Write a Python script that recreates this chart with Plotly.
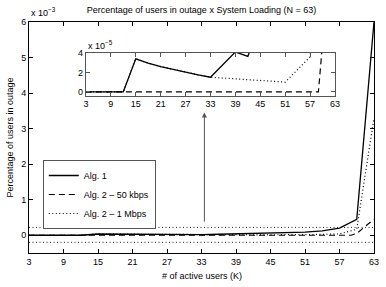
import plotly.graph_objects as go

# ---- data (fraction of users in outage) ----
K = [3, 6, 9, 12, 15, 18, 21, 24, 27, 30, 33, 36, 39, 42, 45, 48, 51, 54, 57, 60, 63]
alg1 = [0, 0, 0, 0, 3.4e-5, 2.95e-5, 2.6e-5, 2.3e-5, 2.05e-5, 1.75e-5, 1.5e-5,
        2.8e-5, 4.1e-5, 3.65e-5, 7e-5, 8e-5, 9e-5, 12e-5, 20e-5, 45e-5, 600e-5]
alg2_1m = [0, 0, 0, 0, 3.4e-5, 2.95e-5, 2.6e-5, 2.3e-5, 2.05e-5, 1.75e-5, 1.5e-5,
           1.42e-5, 1.35e-5, 1.27e-5, 1.2e-5, 1.1e-5, 1.0e-5, 2.3e-5, 3.6e-5, 17e-5, 330e-5]
K_50k = [3, 57, 59, 60, 63]
alg2_50k = [0, 0, 0, 5e-5, 45e-5]
zoom_band = [-0.2e-3, 0.22e-3]
x_ticks = [3, 9, 15, 21, 27, 33, 39, 45, 51, 57, 63]
main_y_ticks = [0, 1, 2, 3, 4, 5, 6]
inset_y_ticks = [0, 2, 4]
main_scale = 1e-3
inset_scale = 1e-5
series_names = ["Alg. 1", "Alg. 2 \u2013 50 kbps", "Alg. 2 \u2013 1 Mbps"]

FONT = "Liberation Sans, Arial, sans-serif"
DASH = "6px,4px"
DOT = "1px,2.5px"

fig = go.Figure()

styles = [
    (K, alg1, "solid", 1.3),
    (K_50k, alg2_50k, DASH, 1.2),
    (K, alg2_1m, DOT, 1.2),
]

# main traces
for (xs, ys, dash, w), name in zip(styles, series_names):
    fig.add_trace(go.Scatter(
        x=xs, y=[v / main_scale for v in ys], mode="lines", name=name,
        line=dict(color="black", width=w, dash=dash),
        xaxis="x", yaxis="y", hoverinfo="skip"))

# zoom band dotted lines
for b in zoom_band:
    fig.add_trace(go.Scatter(
        x=[K[0], K[-1]], y=[b / main_scale, b / main_scale], mode="lines",
        line=dict(color="#222", width=1, dash=DOT), showlegend=False,
        xaxis="x", yaxis="y", hoverinfo="skip"))

# inset traces
for (xs, ys, dash, w), name in zip(styles, series_names):
    fig.add_trace(go.Scatter(
        x=xs, y=[v / inset_scale for v in ys], mode="lines", name=name,
        line=dict(color="black", width=w, dash=dash), showlegend=False,
        xaxis="x2", yaxis="y2", hoverinfo="skip"))

axis_common = dict(ticks="inside", ticklen=4, tickwidth=1, tickcolor="black",
                   showline=True, linecolor="black", linewidth=1, mirror="ticks",
                   showgrid=False, zeroline=False, automargin=False,
                   tickfont=dict(family=FONT, size=9, color="black"))

inset_axis = dict(axis_common)
inset_axis.update(linecolor="#555", tickcolor="#555")

fig.update_layout(
    width=386, height=287,
    margin=dict(l=29, r=12, t=22, b=34, autoexpand=False),
    paper_bgcolor="white", plot_bgcolor="white",
    font=dict(family=FONT, size=9, color="black"),
    title=dict(text="Percentage of users in outage x System Loading (N = 63)",
               x=0.5, xref="paper", y=1 - 10 / 287, yref="container",
               xanchor="center", yanchor="middle", automargin=False,
               font=dict(family=FONT, size=9, color="black")),
    xaxis=dict(range=[3, 63], tickvals=x_ticks, domain=[0, 1], anchor="y", **axis_common),
    yaxis=dict(range=[-0.5, 6], tickvals=main_y_ticks, domain=[0, 1], anchor="x", **axis_common),
    xaxis2=dict(range=[3, 63], tickvals=x_ticks, domain=[0.165, 0.887], anchor="y2", **inset_axis),
    yaxis2=dict(range=[-0.4, 4], tickvals=inset_y_ticks, domain=[0.681, 0.866], anchor="x2", **inset_axis),
    legend=dict(x=0.04, y=(253 - 160) / 231, xanchor="left", yanchor="top",
                bgcolor="white", bordercolor="#555", borderwidth=1,
                font=dict(family=FONT, size=9, color="black"),
                itemwidth=30, tracegroupgap=0),
    showlegend=True,
    hovermode=False,
    annotations=[
        dict(text="x 10<sup>\u22123</sup>", xref="paper", yref="paper", x=0, y=(253 - 12) / 231,
             xanchor="left", yanchor="middle", showarrow=False,
             font=dict(family=FONT, size=9)),
        dict(text="x 10<sup>\u22125</sup>", xref="paper", yref="paper", x=0.165, y=(253 - 45) / 231,
             xanchor="left", yanchor="middle", showarrow=False,
             font=dict(family=FONT, size=9)),
        dict(text="# of active users (K)", xref="paper", yref="paper", x=0.5, y=-(276 - 253) / 231,
             xanchor="center", yanchor="middle", showarrow=False,
             font=dict(family=FONT, size=9)),
        dict(text="Percentage of users in outage", xref="paper", yref="paper",
             x=-(29 - 9) / 345, y=0.5, textangle=-90,
             xanchor="center", yanchor="middle", showarrow=False,
             font=dict(family=FONT, size=9)),
        dict(text="", x=33.5, y=3.45, xref="x", yref="y", ax=33.5, ay=0.34,
             axref="x", ayref="y", showarrow=True, arrowhead=2, arrowsize=1,
             arrowwidth=1, arrowcolor="#555"),
    ],
)

fig.write_html("out.html",
               config={"displayModeBar": False, "staticPlot": True},
               post_script="document.body.style.margin='0';document.body.style.overflow='hidden';")
